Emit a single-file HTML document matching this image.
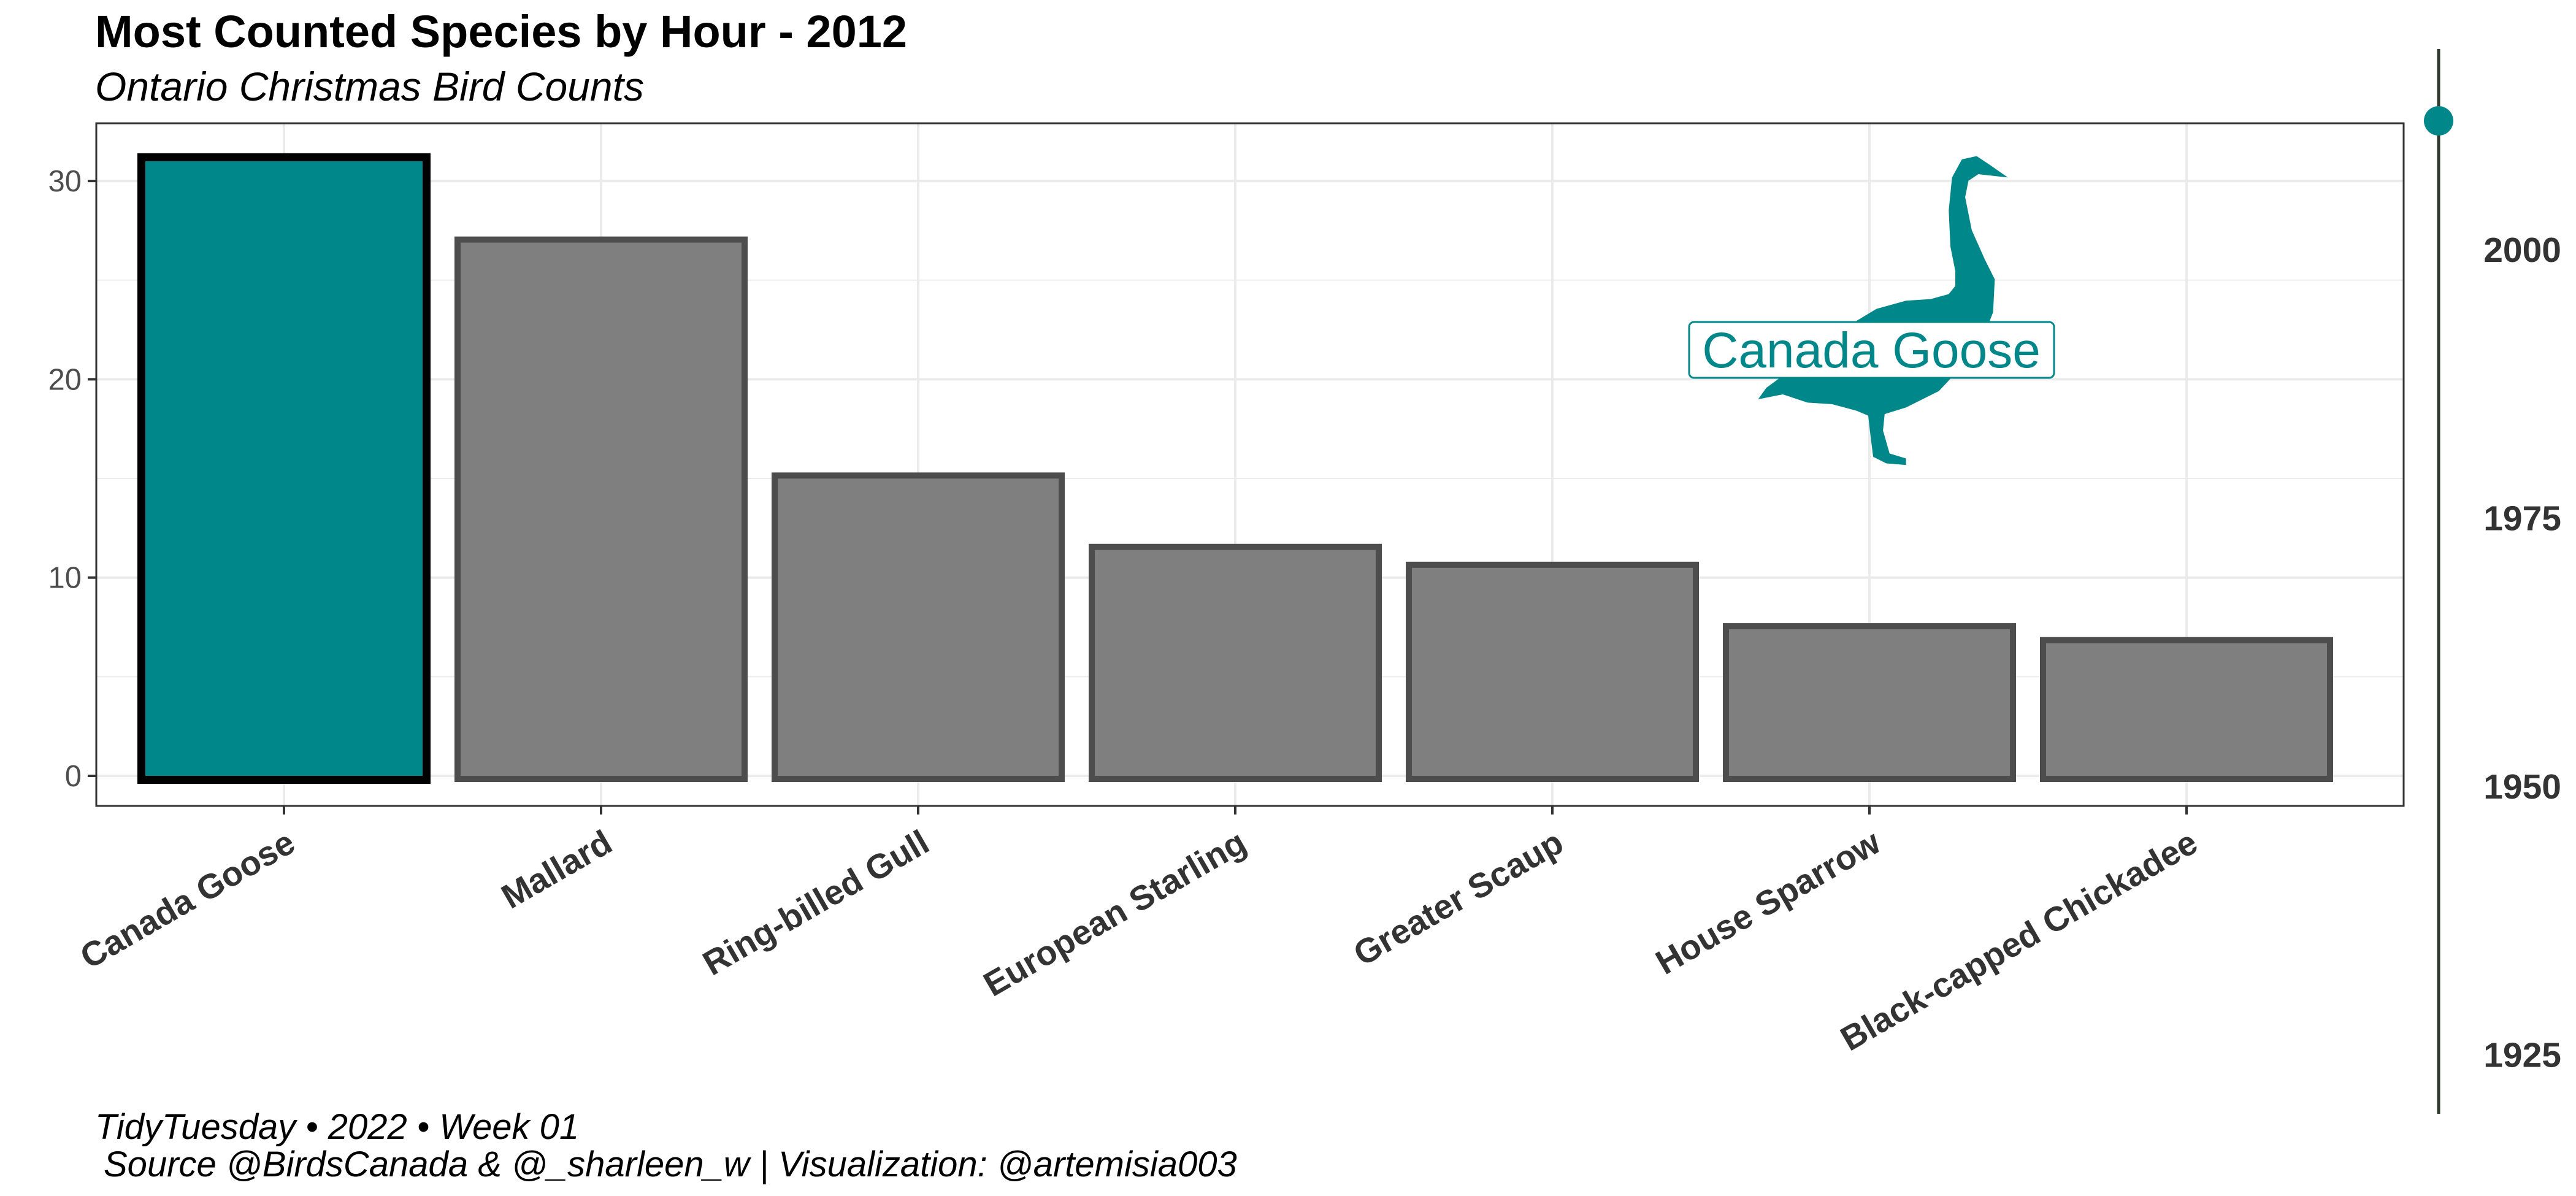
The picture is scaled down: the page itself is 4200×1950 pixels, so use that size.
<!DOCTYPE html>
<html><head><meta charset="utf-8"><style>
html,body{margin:0;padding:0;background:#fff;}
svg{display:block;font-family:"Liberation Sans",Arial,sans-serif;}
</style></head><body>
<svg id="chart" width="4200" height="1950" viewBox="0 0 4200 1950">
<text x="155" y="77" font-size="74" font-weight="bold" fill="#000">Most Counted Species by Hour - 2012</text>
<text x="155" y="164" font-size="66" font-style="italic" fill="#000">Ontario Christmas Bird Counts</text>
<g id="grid"></g>
<g id="bars"></g>
<rect x="157" y="201" width="3762" height="1113" fill="none" stroke="#333" stroke-width="3"/>
<g id="yaxis"></g>
<g id="xaxis"></g>
<g>
<path transform="scale(2.679)" fill="#00878a" d="M1222,108 L1212,101 L1203,95 L1194,97 L1188,108 L1186,128 L1187,150 L1190,165 L1190,174 L1186,179 L1175,182 L1160,183 L1142,188 L1127,197 L1114,210 L1090,225 L1075,236 L1070,243 L1085,240 L1100,245 L1115,246 L1130,250 L1137,253 L1138,262 L1140,278 L1148,282 L1160,283 L1160,279 L1150,276 L1146,262 L1147,252 L1160,248 L1180,238 L1195,222 L1206,208 L1213,190 L1214,170 L1208,158 L1200,140 L1196,120 L1198,110 L1204,106 Z"/>
<rect x="2754" y="525" width="595" height="91" rx="8" fill="#fff" stroke="#00878a" stroke-width="3"/>
<text x="3051" y="599" font-size="82" fill="#00878a" text-anchor="middle">Canada Goose</text>
</g>
<g id="timeline"></g>
<text x="155" y="1857" font-size="58" font-style="italic" fill="#000">TidyTuesday • 2022 • Week 01</text>
<text x="169" y="1918" font-size="58" font-style="italic" fill="#000">Source @BirdsCanada &amp; @_sharleen_w  |  Visualization: @artemisia003</text>
</svg>
<script>
const categories = ["Canada Goose","Mallard","Ring-billed Gull","European Starling","Greater Scaup","House Sparrow","Black-capped Chickadee"];
const values = [31.4, 27.2, 15.3, 11.7, 10.8, 7.7, 7.0];
const highlighted = ["Canada Goose"];
const yTicks = [0, 10, 20, 30];
const yMinor = [5, 15, 25];
const yearTicks = [1925, 1950, 1975, 2000];
const selectedYear = [2012];

const NS = "http://www.w3.org/2000/svg";
function mk(tag, attrs, parent){const e=document.createElementNS(NS,tag);for(const k in attrs)e.setAttribute(k,attrs[k]);parent.appendChild(e);return e;}
const y = v => 1265 - v * 32.33;
const x = i => 463 + i * 517;
const yr = v => 407 + (2000 - v) * 17.5;
const grid = document.getElementById('grid'), bars = document.getElementById('bars');
const yaxis = document.getElementById('yaxis'), xaxis = document.getElementById('xaxis'), tl = document.getElementById('timeline');

yMinor.forEach(v=>{
  const l=mk('line',{x1:157,x2:3919,y1:y(v),y2:y(v),stroke:'#ebebeb','stroke-width':2},grid);
  
  
});
yTicks.forEach(v=>{
  const l=mk('line',{x1:157,x2:3919,y1:y(v),y2:y(v),stroke:'#ebebeb','stroke-width':4},grid);
  
  
  const t=mk('line',{x1:143,x2:157,y1:y(v),y2:y(v),stroke:'#333','stroke-width':4},yaxis);
  
  
  const tx=mk('text',{x:133,y:y(v)+17,'font-size':49,fill:'#4d4d4d','text-anchor':'end'},yaxis);
  tx.textContent=v;
  
  
});
categories.forEach((c,i)=>{
  const l=mk('line',{x1:x(i),x2:x(i),y1:201,y2:1314,stroke:'#ebebeb','stroke-width':4},grid);
  
  
  const hl = highlighted.includes(c);
  const sw = hl ? 13 : 10;
  const r=mk('rect',{x:x(i)-239+sw/2,y:y(values[i])+sw/2,width:478-sw,height:y(0)-y(values[i]),fill:hl?'#00878a':'#7f7f7f',stroke:hl?'#000':'#4d4d4d','stroke-width':sw},bars);
  
  
  const t=mk('line',{x1:x(i),x2:x(i),y1:1314,y2:1328,stroke:'#333','stroke-width':4},xaxis);
  
  
  const tx=mk('text',{x:x(i)+22,y:1385,'font-size':56,'font-weight':'bold',fill:'#333','text-anchor':'end',transform:`rotate(-30 ${x(i)+22} 1385)`},xaxis);
  tx.textContent=c;
  
  
});
const ln=mk('line',{x1:3976,x2:3976,y1:80,y2:1816,stroke:'#2f3a2f','stroke-width':5},tl);


yearTicks.forEach(v=>{
  const tx=mk('text',{x:4176,y:yr(v)+20,'font-size':57,'font-weight':'bold',fill:'#333','text-anchor':'end'},tl);
  tx.textContent=v;
  
  
});
selectedYear.forEach(v=>{
  const d=mk('circle',{cx:3976,cy:yr(v),r:24,fill:'#00878a'},tl);
  
  
});
</script>
</body></html>
